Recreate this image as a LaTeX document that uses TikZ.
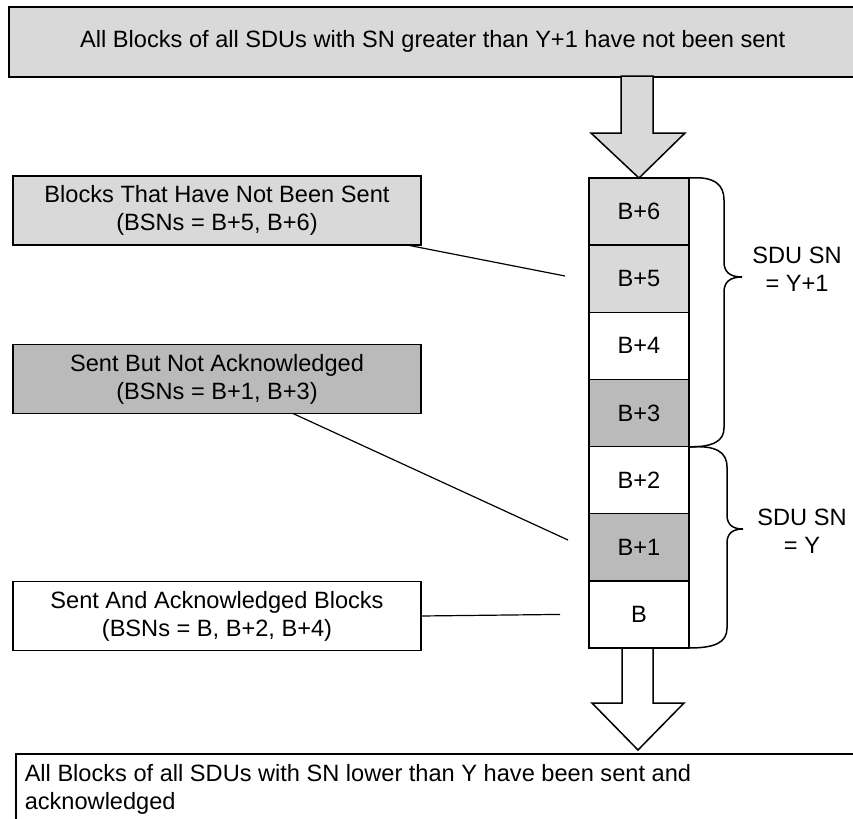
\documentclass[tikz,border=0pt]{standalone}
\usepackage{fontspec}
\setmainfont{Liberation Sans}
\usetikzlibrary{positioning,calc}
\definecolor{lightgrey}{RGB}{217,217,217}
\definecolor{midgrey}{RGB}{186,186,186}

\begin{document}
\begin{tikzpicture}[x=0.5pt, y=-0.5pt, line width=0.75pt,
  font=\fontsize{11.8}{14}\selectfont,
  cell/.style={draw, minimum width=50pt, minimum height=33.57pt, inner sep=0pt, outer sep=0pt},
  keybox/.style={draw, minimum width=204pt, minimum height=34.5pt, inner sep=0pt, outer sep=0pt, align=center},
  link/.style={line width=0.6pt}]
  \useasboundingbox (0,0) rectangle (853,819);
  \clip (0,0) rectangle (853,819);

  % banner boxes, top and bottom (run off the page)
  \node[draw, fill=lightgrey, anchor=north west, minimum width=424pt, minimum height=35pt, inner sep=0pt] (top) at (8,6)
    {All Blocks of all SDUs with SN greater than Y+1 have not been sent};
  \node[draw, anchor=north west, minimum width=430pt, minimum height=40pt] (bottom) at (15,753) {};
  \node[anchor=north west, align=left, inner sep=0pt] (bottomtxt) at (24,764)
    {All Blocks of all SDUs with SN lower than Y have been sent and\\acknowledged};

  % the block column
  \foreach \i/\t/\c in {0/B/white, 1/B+1/midgrey, 2/B+2/white, 3/B+3/midgrey, 4/B+4/white, 5/B+5/lightgrey, 6/B+6/lightgrey}
    \node[cell, fill=\c] (c\i) at (639, {614.43-67.14*\i}) {\t};

  % big arrows in and out
  \draw[fill=lightgrey] (c6.north) -- ++(-48,-45) -- ++(30,0) -- ++(0,-57) -- ++(32,0) -- ++(0,57) -- ++(32,0) -- cycle;
  \draw[fill=white] ([xshift=-8.5pt]c0.south) -- ++(0,55) -- ++(-30,0) -- ++(46,47) -- ++(46,-47) -- ++(-31,0) -- ++(0,-55) -- cycle;

  % key boxes
  \node[keybox, fill=lightgrey] (unsent) at (217,210.5) {Blocks That Have Not Been Sent\\(BSNs = B+5, B+6)};
  \node[keybox, fill=midgrey] (unacked) at (217,379) {Sent But Not Acknowledged\\(BSNs = B+1, B+3)};
  \node[keybox, fill=white] (acked) at (217,616) {Sent And Acknowledged Blocks\\(BSNs = B, B+2, B+4)};

  \coordinate (e5) at (565,276);
  \coordinate (e1) at (568,540);
  \coordinate (e0) at ([xshift=-14.5pt]c0.west);
  \draw[link] ([xshift=-7pt]unsent.south east) -- (e5);
  \draw[link] ([xshift=38pt]unacked.south) -- (e1);
  \draw[link] (acked.east) -- (e0);

  % braces
  \draw (689,178) .. controls (715,176) and (724,185) .. (724,200) -- (724,262)
    .. controls (724,272) and (730,277) .. (742,277) .. controls (730,277) and (724,282) .. (724,292)
    -- (724,428) .. controls (724,440) and (715,447) .. (689,447);
  \draw (689,447) .. controls (716,445) and (727,452) .. (727,467) -- (727,515)
    .. controls (727,524) and (732,529) .. (743,529) .. controls (732,529) and (727,534) .. (727,543)
    -- (727,628) .. controls (727,642) and (716,648) .. (689,648);
  \node[align=center] (snup) at (797,269) {SDU SN\\= Y+1};
  \node[align=center] (snlow) at (802,531) {SDU SN\\= Y};
\end{tikzpicture}
\end{document}
